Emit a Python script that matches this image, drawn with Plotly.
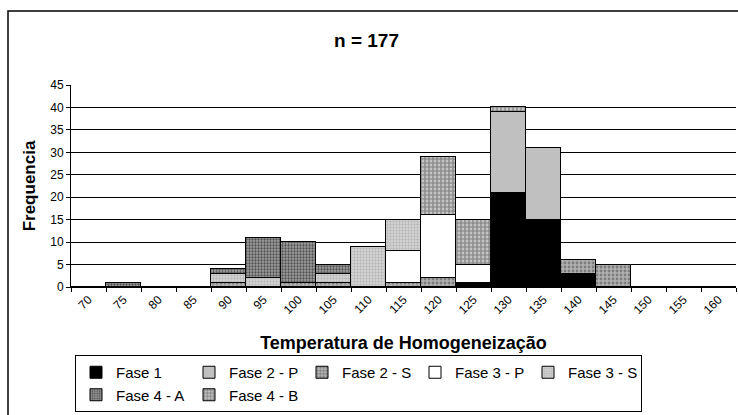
import plotly.graph_objects as go

# Temperature classes (°C) on the category axis
temperaturas = ["70", "75", "80", "85", "90", "95", "100", "105", "110", "115",
                "120", "125", "130", "135", "140", "145", "150", "155", "160"]

# Counts per class for each phase
fase_1 = [0, 0, 0, 0, 0, 0, 0, 0, 0, 0, 0, 1, 21, 15, 3, 0, 0, 0, 0]
fase_2_p = [0, 0, 0, 0, 0, 0, 0, 0, 0, 0, 0, 0, 18, 16, 0, 0, 0, 0, 0]
fase_2_s = [0, 0, 0, 0, 1, 0, 1, 1, 0, 1, 2, 0, 0, 0, 3, 5, 0, 0, 0]
fase_3_p = [0, 0, 0, 0, 0, 0, 0, 0, 0, 7, 14, 4, 0, 0, 0, 0, 0, 0, 0]
fase_3_s = [0, 0, 0, 0, 2, 2, 0, 2, 9, 7, 0, 0, 0, 0, 0, 0, 0, 0, 0]
fase_4_a = [0, 1, 0, 0, 1, 9, 9, 2, 0, 0, 0, 0, 0, 0, 0, 0, 0, 0, 0]
fase_4_b = [0, 0, 0, 0, 0, 0, 0, 0, 0, 0, 13, 10, 1, 0, 0, 0, 0, 0, 0]

FONT = "Liberation Sans, Arial, sans-serif"

series = [
    ("Fase 1", fase_1, dict(color="black")),
    ("Fase 2 - P", fase_2_p, dict(color="#c0c0c0")),
    ("Fase 2 - S", fase_2_s, dict(color="#a8a8a8",
                                  pattern=dict(shape=".", bgcolor="#b0b0b0", fgcolor="#4a4a4a",
                                               size=4, solidity=0.4))),
    ("Fase 3 - P", fase_3_p, dict(color="white")),
    ("Fase 3 - S", fase_3_s, dict(color="#d0d0d0",
                                  pattern=dict(shape=".", bgcolor="#d8d8d8", fgcolor="#999999",
                                               size=3, solidity=0.5))),
    ("Fase 4 - A", fase_4_a, dict(color="#707070",
                                  pattern=dict(shape=".", bgcolor="#a0a0a0", fgcolor="#000000",
                                               size=3, solidity=0.45))),
    ("Fase 4 - B", fase_4_b, dict(color="#a0a0a0",
                                  pattern=dict(shape="+", bgcolor="#c4c4c4", fgcolor="#3a3a3a",
                                               size=4, solidity=0.5))),
]

fig = go.Figure()
for name, values, marker in series:
    fig.add_trace(go.Bar(
        x=temperaturas, y=values, name=name,
        marker=dict(line=dict(color="black", width=1), **marker),
    ))

# plot area in pixels: left 71, right 736, top 85, bottom 287
L, R, T, B = 71, 736, 85, 287
W, H = 738, 415
pw, ph = R - L, B - T


def px_x(x):
    return (x - L) / pw


def px_y(y):
    return (B - y) / ph


fig.update_layout(
    width=W, height=H,
    margin=dict(l=L, r=W - R, t=T, b=H - B, pad=0),
    barmode="stack", bargap=0,
    paper_bgcolor="white", plot_bgcolor="white",
    font=dict(family=FONT, color="black"),
    showlegend=True,
    legend=dict(
        orientation="h", x=px_x(75), y=px_y(355), xanchor="left", yanchor="top",
        bordercolor="black", borderwidth=1, bgcolor="white",
        font=dict(size=15, family=FONT), entrywidth=68, itemwidth=30,
        traceorder="normal",
    ),
    annotations=[
        dict(text="<b>n = 177</b>", x=px_x(366), y=px_y(40), xref="paper", yref="paper",
             xanchor="center", yanchor="middle",
             showarrow=False, font=dict(size=19, family=FONT)),
    ],
    shapes=[
        dict(type="rect", xref="paper", yref="paper",
             x0=px_x(8), x1=px_x(745), y0=px_y(11), y1=px_y(430),
             line=dict(color="black", width=1.5), layer="below"),
    ],
)

fig.update_xaxes(
    type="category", tickson="boundaries", ticks="outside", ticklen=4,
    tickcolor="black", showline=True, linecolor="black", linewidth=1,
    tickangle=-45, tickfont=dict(size=12, family=FONT),
    title=dict(text="<b>Temperatura de Homogeneização</b>", font=dict(size=18, family=FONT),
               standoff=20),
    showgrid=False,
)
fig.update_yaxes(
    range=[0, 45], dtick=5, ticks="outside", ticklen=4, tickcolor="black",
    showline=True, linecolor="black", linewidth=1,
    showgrid=True, gridcolor="black", gridwidth=1,
    tickfont=dict(size=12, family=FONT),
    title=dict(text="<b>Frequencia</b>", font=dict(size=17, family=FONT), standoff=10),
    zeroline=False,
)

fig.write_html("out.html")
